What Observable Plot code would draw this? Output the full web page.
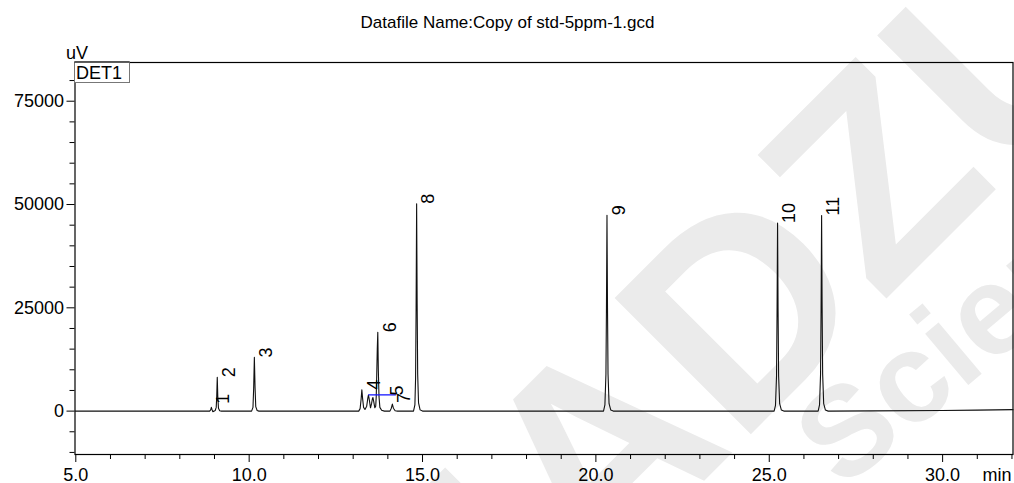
<!DOCTYPE html>
<html>
<head>
<meta charset="utf-8">
<script src="https://cdn.jsdelivr.net/npm/d3@7"></script>
<script src="https://cdn.jsdelivr.net/npm/@observablehq/plot@0.6"></script>
<style>
  html, body { margin: 0; padding: 0; background: #fff; }
  #chart svg { display: block; }
</style>
</head>
<body>
<div id="chart"></div>
<script>
// Detector trace: retention time (min) and signal (uV)
const traceTime = [
  4.98, 8.86, 8.89, 8.91, 8.93, 8.95, 8.99,
  9.02, 9.05, 9.065, 9.08, 9.095, 9.115, 9.15, 9.20,
  10.07, 10.11, 10.13, 10.15, 10.17, 10.19, 10.23, 10.28,
  13.16, 13.20, 13.23, 13.25, 13.27, 13.30, 13.34,
  13.39, 13.42, 13.44, 13.46, 13.50,
  13.53, 13.555, 13.57, 13.59, 13.625, 13.65,
  13.665, 13.68, 13.695, 13.71, 13.725, 13.745, 13.77, 13.82, 13.90,
  14.06, 14.10, 14.13, 14.16, 14.21, 14.28,
  14.74, 14.78, 14.80, 14.815, 14.83, 14.845, 14.86, 14.885, 14.93, 15.00,
  20.22, 20.26, 20.29, 20.305, 20.32, 20.335, 20.35, 20.38, 20.43, 20.50,
  25.14, 25.18, 25.21, 25.225, 25.24, 25.255, 25.27, 25.30, 25.35, 25.42,
  26.41, 26.45, 26.48, 26.495, 26.51, 26.525, 26.54, 26.57, 26.62, 26.70,
  28.00, 30.00, 31.00, 32.03
];
const traceSignal = [
  0, 0, 300, 900, 350, -120, 0,
  150, 900, 3600, 8200, 3600, 700, 100, 0,
  0, 900, 5500, 13000, 5700, 1100, 150, 0,
  0, 600, 3000, 5150, 3200, 900, 400,
  1200, 3000, 3900, 3000, 800,
  1800, 3000, 3300, 2400, 800, 1200,
  3500, 9000, 15000, 19100, 10000, 3500, 900, 200, 0,
  0, 700, 1700, 700, 100, 0,
  0, 1500, 8000, 25000, 50200, 26000, 9000, 2000, 300, 0,
  0, 1500, 9000, 25000, 47400, 25000, 9000, 1800, 250, 0,
  0, 1400, 8500, 24000, 45500, 24000, 8500, 1800, 250, 0,
  0, 1500, 9000, 25000, 47350, 25000, 9000, 1800, 250, 0,
  60, 150, 250, 350
];

// Peak numbers and where each number is written (min, uV)
const peakIds    = ["1", "2", "3", "4", "5", "6", "7", "8", "9", "10", "11"];
const peakTimes  = [8.90, 9.08, 10.15, 13.25, 13.93, 13.71, 14.13, 14.83, 20.32, 25.24, 26.51];
const peakLevels = [1800, 8200, 13000, 5150, 3780, 19100, 1950, 50200, 47400, 45500, 47350];

// Drop baseline under the 4–5 group
const baseTimes  = [13.45, 14.22];
const baseLevels = [3940, 3940];

// Axis ticks
const xMajor = [5, 10, 15, 20, 25, 30];
const xMinor = [6, 7, 8, 9, 11, 12, 13, 14, 16, 17, 18, 19, 21, 22, 23, 24, 26, 27, 28, 29, 31, 32];
const yMajor = [0, 25000, 50000, 75000];
const yMinor = [-10000, -5000, 5000, 10000, 15000, 20000, 30000, 35000, 40000, 45000,
                55000, 60000, 65000, 70000, 80000];

const titleText = "Datafile Name:Copy of std-5ppm-1.gcd";
const yUnit = "uV";
const xUnit = "min";
const detector = "DET1";

const trace = traceTime.map((t, i) => ({t, v: traceSignal[i]}));
const peaks = peakIds.map((id, i) => ({id, t: peakTimes[i], v: peakLevels[i]}));
const base = baseTimes.map((t, i) => ({t, v: baseLevels[i]}));

const font = "'Liberation Sans', Arial, Helvetica, sans-serif";
const M = {left: 74.5, right: 1.5, top: 62, bottom: 29};
const W = 1014, H = 483;
const mark = "#ebebeb";

const chart = Plot.plot({
  width: W,
  height: H,
  marginLeft: M.left,
  marginRight: M.right,
  marginTop: M.top,
  marginBottom: M.bottom,
  x: {domain: [4.977, 32.03]},
  y: {domain: [-10500, 84370]},
  style: {fontFamily: font, fontSize: "18px", color: "#000", background: "#fff", overflow: "hidden"},
  marks: [
    // pale brand watermark behind everything
    Plot.text(["SHIMADZU"], {
      text: d => d, frameAnchor: "top-left", dx: 1144 - M.left, dy: 40 - M.top,
      textAnchor: "end", lineAnchor: "bottom", rotate: -45,
      fontSize: 280, fontWeight: "bold", fill: mark
    }),
    Plot.text(["Science"], {
      text: d => d, frameAnchor: "top-left", dx: 842 - M.left, dy: 490 - M.top,
      textAnchor: "start", lineAnchor: "bottom", rotate: -40,
      fontSize: 127, fontWeight: "bold", fill: mark
    }),
    Plot.frame({stroke: "#000", strokeWidth: 1.2}),
    Plot.axisY(yMajor, {tickSize: 8, tickPadding: 3, tickFormat: d3.format("d"), label: null, fontSize: 18}),
    Plot.axisY(yMinor, {tickSize: 5, tickFormat: () => "", label: null}),
    Plot.axisX(xMajor, {tickSize: 8, tickPadding: 6, tickFormat: d3.format(".1f"), label: null, fontSize: 18}),
    Plot.axisX(xMinor, {tickSize: 5, tickFormat: () => "", label: null}),
    Plot.line(trace, {x: "t", y: "v", stroke: "#111", strokeWidth: 1.1}),
    Plot.line(base, {x: "t", y: "v", stroke: "#1010ff", strokeWidth: 1.4}),
    Plot.text(peaks, {
      x: "t", y: "v", text: "id", rotate: -90, textAnchor: "start", lineAnchor: "top",
      dx: 5, fontSize: 18, fill: "#000"
    }),
    Plot.text([xUnit], {
      text: d => d, frameAnchor: "bottom-right", dx: -1.5, dy: 14,
      textAnchor: "end", lineAnchor: "top", fontSize: 18
    }),
    Plot.text([yUnit], {
      text: d => d, frameAnchor: "top-left", dx: -9, dy: -3.7,
      textAnchor: "start", lineAnchor: "bottom", fontSize: 18
    }),
    Plot.text([titleText], {
      text: d => d, frameAnchor: "top", dx: W / 2 - (M.left + (W - M.right)) / 2, dy: -40,
      textAnchor: "middle", lineAnchor: "middle", fontSize: 17
    })
  ]
});

// detector tag box in the upper-left corner of the frame
const svg = d3.select(chart);
const tag = svg.append("g").attr("transform", `translate(${M.left},${M.top})`);
tag.append("rect")
  .attr("x", 0).attr("y", 0).attr("width", 55).attr("height", 20.5)
  .attr("fill", "#fff").attr("stroke", "#777").attr("stroke-width", 1);
tag.append("line")
  .attr("x1", 0).attr("x2", 55).attr("y1", 0).attr("y2", 0)
  .attr("stroke", "#000").attr("stroke-width", 1.2);
tag.append("text")
  .attr("x", 1.5).attr("y", 17)
  .attr("text-anchor", "start")
  .attr("font-family", font).attr("font-size", 18)
  .text(detector);

document.getElementById("chart").appendChild(chart);
</script>
</body>
</html>
